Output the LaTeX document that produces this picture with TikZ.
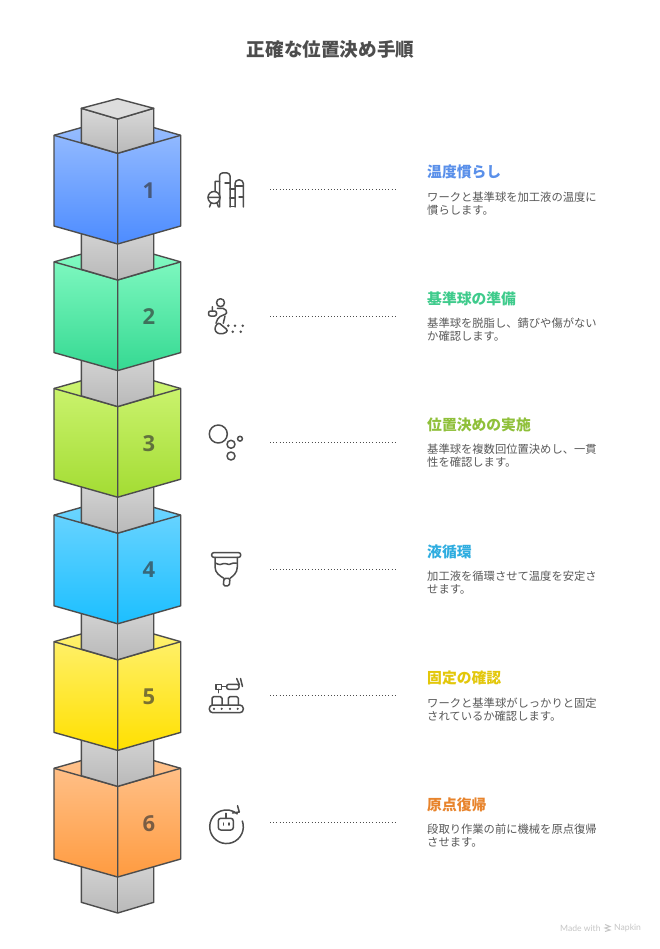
\documentclass[tikz,border=0pt]{standalone}
\usepackage{fontspec}
\setmainfont{Noto Sans CJK JP}
\newfontfamily\numfont{Open Sans}
\newfontfamily\markfont{Lato}
\usetikzlibrary{positioning}

\definecolor{inkgray}{HTML}{4D4D4D}
\definecolor{bodygray}{HTML}{595959}
\definecolor{blueA}{HTML}{9CC0FF}   \definecolor{blueB}{HTML}{4D8CFF}   \definecolor{blueT}{HTML}{5A90EA}
\definecolor{greenA}{HTML}{88FCC6}  \definecolor{greenB}{HTML}{35D992}  \definecolor{greenT}{HTML}{3FCB8C}
\definecolor{limeA}{HTML}{D0F676}   \definecolor{limeB}{HTML}{A3DC33}   \definecolor{limeT}{HTML}{8FC03A}
\definecolor{skyA}{HTML}{72D6FF}    \definecolor{skyB}{HTML}{1CBFFF}    \definecolor{skyT}{HTML}{2FADE0}
\definecolor{yellowA}{HTML}{FFF278} \definecolor{yellowB}{HTML}{FFE000} \definecolor{yellowT}{HTML}{E3C70A}
\definecolor{orangeA}{HTML}{FFC592} \definecolor{orangeB}{HTML}{FF9B40} \definecolor{orangeT}{HTML}{E8842C}

\tikzset{
  edgeline/.style={draw=inkgray,line width=1.4pt,line join=round},
  titletext/.style={inner sep=0pt,text=inkgray,font=\fontsize{18.6}{22}\selectfont\bfseries},
  headtext/.style={inner sep=0pt,anchor=west,font=\fontsize{14.8}{18}\selectfont\bfseries},
  bodytext/.style={inner sep=0pt,anchor=north west,align=left,text=bodygray,font=\fontsize{11.3}{13.4}\selectfont},
  numtext/.style={inner sep=0pt,text=black!80,text opacity=.65,font=\numfont\fontsize{22}{24}\selectfont\bfseries},
  leader/.style={draw=inkgray,line width=1pt,dash pattern=on 1pt off 2.2pt},
  iconline/.style={draw=inkgray,line width=1.5pt,line cap=round,line join=round},
  icondot/.style={fill=inkgray,draw=none},
}

% one cube with the post that hangs below it; #1 top of left edge, #2 name, #3 number, #4 #5 colours
\newcommand{\towerblock}[5]{
  \begin{scope}[shift={(0,#1)}]
    \path[edgeline,top color=gray!30,bottom color=gray!55]
      (81.3,85) -- (81.3,134) -- (117.7,144.7) -- (153.7,134) -- (153.7,85) -- cycle;
    \draw[edgeline] (117.7,100) -- (117.7,144.7);
    \path[edgeline,top color=#4,bottom color=#5]
      (54,0) -- (117.7,-18) -- (180.7,0) -- (180.7,90.7) -- (117.7,108.7) -- (54,90.7) -- cycle;
    \draw[edgeline] (54,0) -- (117.7,18) -- (180.7,0) (117.7,18) -- (117.7,108.7);
    \node[numtext] (#2) at (149,55) {#3};
  \end{scope}
}

% text block and dotted line of one step; #1 centre height of the line
\newcommand{\stepinfo}[5]{
  \coordinate (#2a) at (270,#1+.5);
  \coordinate (#2b) at (397,#1+.5);
  \draw[leader] (#2a) -- (#2b);
  \node[headtext,text=#3] (#2head) at (427,#1-17) {#4};
  \node[bodytext,below=12pt of #2head.south west,anchor=north west] (#2body) {#5};
}

\begin{document}
\begin{tikzpicture}[x=1pt,y=-1pt]
  \useasboundingbox (0,0) rectangle (660,949);
  \fill[white] (0,0) rectangle (660,949);

  \node[titletext] (title) at (330.5,49) {正確な位置決め手順};

  % tower, drawn from the bottom up
  \towerblock{768.3}{num6}{6}{orangeA}{orangeB}
  \towerblock{641.7}{num5}{5}{yellowA}{yellowB}
  \towerblock{515.1}{num4}{4}{skyA}{skyB}
  \towerblock{388.5}{num3}{3}{limeA}{limeB}
  \towerblock{261.9}{num2}{2}{greenA}{greenB}
  \towerblock{135.3}{num1}{1}{blueA}{blueB}

  % post on top
  \path[edgeline,top color=gray!30,bottom color=gray!55]
    (81.3,108.3) -- (117.7,119) -- (153.7,108.3) -- (153.7,142.6) -- (117.7,153.3) -- (81.3,142.6) -- cycle;
  \path[edgeline,fill=gray!27] (81.3,108.3) -- (117.7,98.7) -- (153.7,108.3) -- (117.7,119) -- cycle;
  \draw[edgeline] (117.7,119) -- (117.7,153.3);

  % text blocks
  \stepinfo{189}{stepA}{blueT}{温度慣らし}{ワークと基準球を加工液の温度に\\慣らします。}
  \stepinfo{315.5}{stepB}{greenT}{基準球の準備}{基準球を脱脂し、錆びや傷がない\\か確認します。}
  \stepinfo{441.5}{stepC}{limeT}{位置決めの実施}{基準球を複数回位置決めし、一貫\\性を確認します。}
  \stepinfo{568.5}{stepD}{skyT}{液循環}{加工液を循環させて温度を安定さ\\せます。}
  \stepinfo{695}{stepE}{yellowT}{固定の確認}{ワークと基準球がしっかりと固定\\されているか確認します。}
  \stepinfo{821.5}{stepF}{orangeT}{原点復帰}{段取り作業の前に機械を原点復帰\\させます。}

  % icon 1
  \draw[iconline,rounded corners=3pt] (219.5,207) -- (219.5,173) -- (230,173) -- (230,207);
  \draw[iconline,rounded corners=3.5pt] (235,207) -- (235,180) -- (243.3,180) -- (243.3,207);
  \draw[iconline] (235,186) -- (243.3,186) (239,197) -- (243.3,197) (225,183) -- (230,183) (230,189) -- (235,189) (230,198) -- (235,198) (230,206.5) -- (235,206.5);
  \draw[iconline] (214,197.5) circle (6);
  \draw[iconline] (208,197.5) -- (220,197.5) (215,191) -- (215,181.5) -- (219.5,181.5) (211,203) -- (209.5,207) (217,203) -- (218.5,207);

  % icon 2
  \draw[iconline] (220.5,302.7) circle (4);
  \draw[iconline,rounded corners=2pt] (208.5,311) -- (216.5,311) -- (216.5,316) -- (208.5,316) -- cycle;
  \draw[iconline,rounded corners=2pt] (217.3,308.3) -- (225,308.3) -- (227.3,313.3) -- (218.3,317.3) -- (216,323.3);
  \draw[iconline] (212.3,306.7) -- (212.3,311) (225,316) -- (223.3,323.3);
  \draw[iconline,rounded corners=2.5pt] (218.3,322.3) -- (228.3,330.7) -- (223.3,334) -- (216.7,333.3) -- (214.3,328.3) -- cycle;
  \fill[icondot] (228.3,325.7) circle (1.4) (235,325.7) circle (1.4) (242.7,325.7) circle (1.4) (232.7,331.7) circle (1.4) (240.7,331.7) circle (1.4);

  % icon 3
  \draw[iconline] (218.3,434) circle (9) (231,444.3) circle (4) (240,438.7) circle (2.4) (231,456) circle (4);

  % icon 4
  \draw[iconline,rounded corners=2pt] (211.7,552.7) rectangle (240.7,557.3);
  \draw[iconline] (215,557.3) -- (215,567) .. controls (215,573) and (220,576) .. (224,578.3) (237.3,557.3) -- (237.3,567) .. controls (237.3,573) and (233,576) .. (230,578.3);
  \draw[iconline] (215.5,563) .. controls (219,565) and (221,565) .. (224,563.5) .. controls (226,562.5) and (227,565) .. (229,564.5) .. controls (232,564) and (234,562) .. (236.5,563);
  \draw[iconline,rounded corners=1.5pt] (224,578.3) -- (223.3,585.8) -- (229.3,585.8) -- (230,578.3) -- cycle;

  % icon 5
  \draw[iconline,rounded corners=3.5pt] (209.3,705) rectangle (243.3,712.7);
  \fill[icondot] (214,708.8) circle (1.2) (221.7,708.8) circle (1.2) (230,708.8) circle (1.2) (237.7,708.8) circle (1.2);
  \draw[iconline,rounded corners=1.5pt] (212,705) -- (212,696.7) -- (222,696.7) -- (222,705);
  \draw[iconline,rounded corners=1.5pt] (228.3,705) -- (228.3,696.7) -- (238.3,696.7) -- (238.3,705);
  \draw[iconline] (216,684.3) rectangle (221.7,689.3) (218.5,689.3) -- (218.5,692.7) (221.7,686.7) -- (226.7,686.7);
  \draw[iconline,rounded corners=2pt] (226.7,684.3) rectangle (239,689.3);
  \draw[iconline] (236.7,678.5) -- (239.5,685) (240.5,678.5) -- (242.5,686.5);

  % icon 6
  \draw[iconline] (242.3,821) arc (-20:310:16.8);
  \draw[iconline] (237.5,805.7) -- (239.3,812) -- (232.5,813);
  \draw[iconline,rounded corners=2.5pt] (218.3,818.3) rectangle (233.3,830);
  \draw[iconline] (226,813.3) -- (226,818.3) (223.3,823) -- (223.3,825) (229,823) -- (229,825);

  % footer
  \node[inner sep=0pt,anchor=west,text=gray!45,font=\markfont\fontsize{8.6}{10}\selectfont] (madewith) at (560,928) {Made with};
  \node[inner sep=0pt,anchor=west,text=gray!45,font=\markfont\fontsize{8.6}{10}\selectfont] (napkin) at (614,928) {Napkin};
  \draw[gray!45,line width=1pt] (605,924.5) -- (610,926.5) -- (605,928) -- (610,930) -- (605,931.5);
\end{tikzpicture}
\end{document}
